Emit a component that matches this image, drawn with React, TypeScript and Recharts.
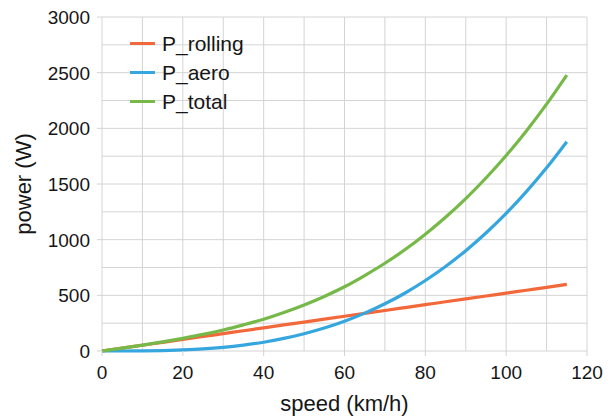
import { CartesianGrid, Label, Legend, Line, LineChart, XAxis, YAxis } from "recharts";

const speeds = [0, 5, 10, 15, 20, 25, 30, 35, 40, 45, 50, 55, 60, 65, 70, 75, 80, 85, 90, 95, 100, 105, 110, 115];
const pRolling = [0, 26, 52, 78, 104, 130, 156, 182, 208, 234, 260, 286, 312, 338, 364, 390, 416, 442, 468, 494, 520, 546, 572, 598];
const pAero = [0, 0, 1, 4, 10, 19, 33, 53, 79, 113, 155, 206, 267, 340, 424, 521, 633, 759, 901, 1060, 1236, 1431, 1645, 1880];
const pTotal = [0, 26, 53, 82, 114, 149, 189, 235, 285, 345, 413, 490, 577, 678, 788, 911, 1049, 1201, 1369, 1554, 1756, 1977, 2217, 2478];

const xTicks = [0, 10, 20, 30, 40, 50, 60, 70, 80, 90, 100, 110, 120];
const yTicks = [0, 250, 500, 750, 1000, 1250, 1500, 1750, 2000, 2250, 2500, 2750, 3000];

const series = [
  { key: "P_rolling", color: "#f3683a" },
  { key: "P_aero", color: "#35a6de" },
  { key: "P_total", color: "#76b948" },
];

const data = speeds.map((v, i) => ({
  speed: v,
  P_rolling: pRolling[i],
  P_aero: pAero[i],
  P_total: pTotal[i],
}));

const FONT = "'Liberation Sans', Arial, sans-serif";
const GRID = "#d4d4d4";
const INK = "#161616";

// only every other grid line gets a label and an outer tick mark
function XTick({ x, y, payload }: any) {
  if (payload.value % 20 !== 0) return null;
  return (
    <g>
      <line x1={x} x2={x} y1={y} y2={y + 5} stroke={GRID} />
      <text x={x} y={y + 15} dy="0.71em" textAnchor="middle" fontSize={19} fill={INK} fontFamily={FONT}>
        {payload.value}
      </text>
    </g>
  );
}

function YTick({ x, y, payload }: any) {
  if (payload.value % 500 !== 0) return null;
  return (
    <g>
      <line x1={x - 5} x2={x} y1={y} y2={y} stroke={GRID} />
      <text x={x - 12} y={y} dy="0.36em" textAnchor="end" fontSize={19} fill={INK} fontFamily={FONT}>
        {payload.value}
      </text>
    </g>
  );
}

function LegendBox() {
  return (
    <div style={{ fontFamily: FONT, fontSize: 21, color: INK }}>
      {series.map((s) => (
        <div key={s.key} style={{ display: "flex", alignItems: "center", height: 29 }}>
          <span style={{ display: "inline-block", width: 25, height: 3, background: s.color, marginRight: 7 }} />
          <span>{s.key}</span>
        </div>
      ))}
    </div>
  );
}

export default function App() {
  return (
    <div style={{ position: "fixed", left: 0, top: 0, background: "#fff" }}>
      <LineChart width={612} height={418} data={data} margin={{ top: 17, right: 25, bottom: 0, left: 0 }}>
        <CartesianGrid stroke={GRID} strokeWidth={1} />
        <XAxis
          dataKey="speed"
          type="number"
          domain={[0, 120]}
          ticks={xTicks}
          interval={0}
          height={67}
          axisLine={false}
          tickLine={false}
          tickSize={0}
          tickMargin={0}
          tick={<XTick />}
        >
          <Label
            content={({ viewBox }: any) => (
              <text
                x={viewBox.x + viewBox.width / 2}
                y={viewBox.y + 52}
                textAnchor="middle"
                dominantBaseline="central"
                fontSize={22}
                fill={INK}
                fontFamily={FONT}
              >
                speed (km/h)
              </text>
            )}
          />
        </XAxis>
        <YAxis
          type="number"
          domain={[0, 3000]}
          ticks={yTicks}
          interval={0}
          width={102}
          axisLine={false}
          tickLine={false}
          tickSize={0}
          tickMargin={0}
          tick={<YTick />}
        >
          <Label
            content={({ viewBox }: any) => {
              const cx = viewBox.x + 23;
              const cy = viewBox.y + viewBox.height / 2;
              return (
                <text
                  x={cx}
                  y={cy}
                  transform={`rotate(-90 ${cx} ${cy})`}
                  textAnchor="middle"
                  dominantBaseline="central"
                  fontSize={22}
                  fill={INK}
                  fontFamily={FONT}
                >
                  power (W)
                </text>
              );
            }}
          />
        </YAxis>
        <Legend
          content={<LegendBox />}
          layout="vertical"
          align="center"
          verticalAlign="middle"
          wrapperStyle={{ position: "absolute", left: 130, top: 29, width: "auto" }}
        />
        {series.map((s) => (
          <Line
            key={s.key}
            dataKey={s.key}
            stroke={s.color}
            strokeWidth={3.2}
            dot={false}
            activeDot={false}
            type="monotone"
            isAnimationActive={false}
          />
        ))}
      </LineChart>
    </div>
  );
}
